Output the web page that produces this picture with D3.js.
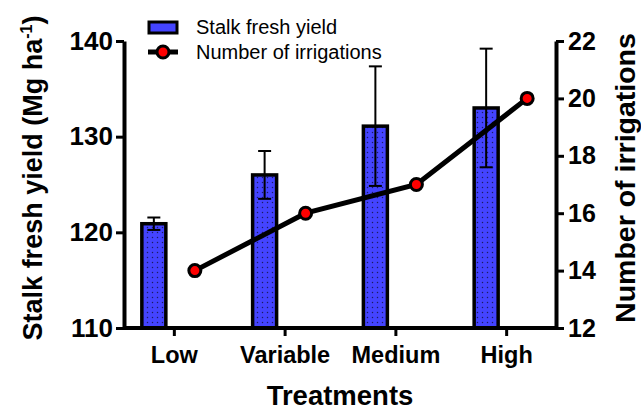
<!DOCTYPE html>
<html>
<head>
<meta charset="utf-8">
<script src="https://cdn.jsdelivr.net/npm/d3@7"></script>
<style>
  body { margin: 0; background: #fff; }
  svg { display: block; font-family: "Liberation Sans", Arial, sans-serif; }
</style>
</head>
<body>
<div id="chart"></div>
<script>
// data
const categories = ["Low", "Variable", "Medium", "High"];
const yieldMeans = [120.9, 126, 131.1, 133];
const yieldErrors = [0.65, 2.5, 6.25, 6.2];
const irrigations = [14, 16, 17, 20];
const yieldTicks = [110, 120, 130, 140];
const irrigationTicks = [12, 14, 16, 18, 20, 22];

const width = 641;
const height = 410;
const plotLeft = 124, plotRight = 556, plotTop = 41, plotBottom = 328;

const svg = d3.select("#chart")
  .append("svg")
  .attr("width", width)
  .attr("height", height);

// dotted fill for the bars
const defs = svg.append("defs");
const pat = defs.append("pattern")
  .attr("id", "dots")
  .attr("patternUnits", "userSpaceOnUse")
  .attr("width", 5)
  .attr("height", 5);
pat.append("rect").attr("width", 5).attr("height", 5).attr("fill", "#4444ff");
pat.append("circle").attr("cx", 2.5).attr("cy", 2.5).attr("r", 0.75)
  .attr("fill", "#1a1a66");

// scales
const x = d3.scalePoint().domain(categories).range([plotLeft, plotRight]).padding(0.45);
const sub = d3.scalePoint().domain(["yield", "irrigations"]).range([-20, 21]);
const yL = d3.scaleLinear().domain([110, 140]).range([plotBottom, plotTop]);
const yR = d3.scaleLinear().domain([12, 22]).range([plotBottom, plotTop]);

const barW = 24;

// bars
svg.append("g")
  .selectAll("rect")
  .data(categories)
  .join("rect")
  .attr("x", (d) => x(d) + sub("yield") - barW / 2)
  .attr("y", (d, i) => yL(yieldMeans[i]))
  .attr("width", barW)
  .attr("height", (d, i) => yL(110) - yL(yieldMeans[i]))
  .attr("fill", "url(#dots)")
  .attr("stroke", "#000")
  .attr("stroke-width", 3.5);

// error bars
const err = svg.append("g").attr("stroke", "#000").attr("stroke-width", 2);
categories.forEach((c, i) => {
  const cx = x(c) + sub("yield");
  const hi = yL(yieldMeans[i] + yieldErrors[i]);
  const lo = yL(yieldMeans[i] - yieldErrors[i]);
  err.append("line").attr("x1", cx).attr("x2", cx).attr("y1", hi).attr("y2", lo);
  err.append("line").attr("x1", cx - 6.5).attr("x2", cx + 6.5).attr("y1", hi).attr("y2", hi);
  err.append("line").attr("x1", cx - 6.5).attr("x2", cx + 6.5).attr("y1", lo).attr("y2", lo);
});

// irrigation line
const line = d3.line()
  .x((d, i) => x(categories[i]) + sub("irrigations"))
  .y((d) => yR(d));

svg.append("path")
  .datum(irrigations)
  .attr("d", line)
  .attr("fill", "none")
  .attr("stroke", "#000")
  .attr("stroke-width", 5);

svg.append("g")
  .selectAll("circle")
  .data(irrigations)
  .join("circle")
  .attr("cx", (d, i) => x(categories[i]) + sub("irrigations"))
  .attr("cy", (d) => yR(d))
  .attr("r", 6)
  .attr("fill", "#ff0000")
  .attr("stroke", "#000")
  .attr("stroke-width", 3);

// axes
function styleAxis(g, size) {
  g.attr("font-family", null).attr("font-size", null);
  g.selectAll(".domain").attr("stroke-width", 4);
  g.selectAll(".tick line").attr("stroke-width", 3);
  g.selectAll(".tick text")
    .attr("fill", "#000")
    .attr("font-weight", "bold")
    .style("font-size", size)
    .style("font-weight", "bold");
}

svg.append("g")
  .attr("transform", `translate(${plotLeft},0)`)
  .call(d3.axisLeft(yL).tickValues(yieldTicks).tickSize(8).tickSizeOuter(0).tickPadding(3))
  .call(styleAxis, "26px");

svg.append("g")
  .attr("transform", `translate(${plotRight},0)`)
  .call(d3.axisRight(yR).tickValues(irrigationTicks).tickSize(8).tickSizeOuter(0).tickPadding(4))
  .call(styleAxis, "25px");

const xAxis = svg.append("g")
  .attr("transform", `translate(0,${plotBottom})`)
  .call(d3.axisBottom(x).tickSize(8).tickSizeOuter(0).tickPadding(10))
  .call(styleAxis, "23.5px");
xAxis.select(".domain").attr("d", `M${plotLeft},0H${plotRight}`);

// axis titles
const titleStyle = (t, size) => t
  .attr("fill", "#000")
  .style("font-weight", "bold")
  .style("font-size", size);

const yTitle = svg.append("text")
  .attr("transform", `translate(42,178) rotate(-90)`)
  .attr("text-anchor", "middle")
  .call(titleStyle, "27px");
yTitle.append("tspan").text("Stalk fresh yield (Mg ha");
yTitle.append("tspan").attr("dy", -10).style("font-size", "16px").text("-1");
yTitle.append("tspan").attr("dy", 10).text(")");

svg.append("text")
  .attr("transform", `translate(635,178) rotate(-90)`)
  .attr("text-anchor", "middle")
  .call(titleStyle, "28.5px")
  .text("Number of irrigations");

svg.append("text")
  .attr("x", (plotLeft + plotRight) / 2)
  .attr("y", 405)
  .attr("text-anchor", "middle")
  .call(titleStyle, "27.5px")
  .text("Treatments");

// legend
const legend = svg.append("g");
legend.append("rect")
  .attr("x", 149).attr("y", 22)
  .attr("width", 28).attr("height", 11)
  .attr("fill", "#4444ff")
  .attr("stroke", "#000")
  .attr("stroke-width", 3);
legend.append("line")
  .attr("x1", 148).attr("x2", 178).attr("y1", 52).attr("y2", 52)
  .attr("stroke", "#000").attr("stroke-width", 5);
legend.append("circle")
  .attr("cx", 163).attr("cy", 52).attr("r", 6)
  .attr("fill", "#ff0000").attr("stroke", "#000").attr("stroke-width", 3);
legend.append("text")
  .attr("x", 196).attr("y", 34)
  .attr("fill", "#000")
  .style("font-size", "20px")
  .text("Stalk fresh yield");
legend.append("text")
  .attr("x", 196).attr("y", 59)
  .attr("fill", "#000")
  .style("font-size", "20px")
  .text("Number of irrigations");
</script>
</body>
</html>
